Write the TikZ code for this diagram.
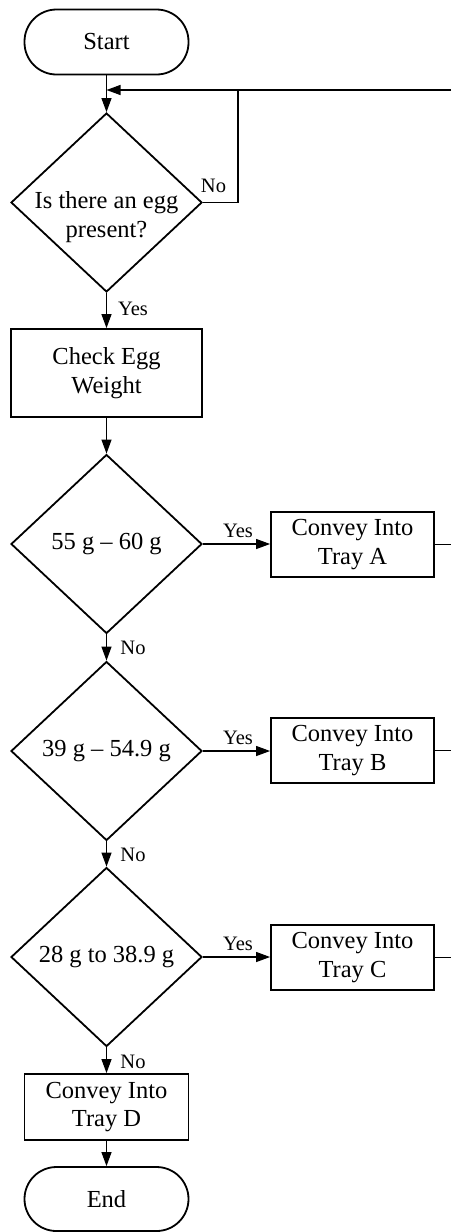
\documentclass[tikz,border=0pt]{standalone}
\usepackage{fontspec}
\setmainfont{Liberation Serif}
\usetikzlibrary{arrows.meta,shapes.geometric}
\begin{document}
\begin{tikzpicture}[x=1pt,y=-1pt,
  box/.style={draw,line width=1.8pt,rectangle,inner sep=0pt,align=center,
    font=\fontsize{24.5}{28.5}\selectfont},
  pill/.style={box,rounded corners=32pt,minimum width=164pt,minimum height=65pt},
  tray/.style={box,minimum width=163pt,minimum height=65pt},
  decision/.style={draw,line width=1.8pt,diamond,inner sep=0pt,
    minimum width=191pt,minimum height=179pt},
  dtext/.style={align=center,inner sep=0pt,font=\fontsize{24.5}{29}\selectfont},
  flow/.style={line width=1.1pt,-{Triangle[length=14pt,width=10pt]}},
  link/.style={line width=1.1pt},
  tag/.style={anchor=base,inner sep=0pt,font=\fontsize{20.5}{22}\selectfont}]
\useasboundingbox (0,0) rectangle (451,1232);

% nodes of the main column
\node[pill] (start) at (106.5,42) {Start};
\node[decision] (q1) at (106.5,202.5) {};
\node[dtext] (q1t) at ([yshift=-15pt]q1.center) {Is there an egg\\present?};
\node[box,minimum width=191pt,minimum height=88pt] (weigh) at (106.5,373) {Check Egg\\Weight};
\node[decision] (q2) at (106.5,544) {};
\node[dtext] (q2t) at (q2) {55 g – 60 g};
\node[decision] (q3) at (106.5,751) {};
\node[dtext] (q3t) at (q3) {39 g – 54.9 g};
\node[decision] (q4) at (106.5,957) {};
\node[dtext] (q4t) at (q4) {28 g to 38.9 g};
\node[tray,minimum width=164pt,minimum height=66pt] (td) at (106.5,1107) {Convey Into\\Tray D};
\node[pill,minimum height=64pt] (end) at (106.5,1199) {End};

% tray boxes on the right
\node[tray] (ta) at (352.5,544.5) {Convey Into\\Tray A};
\node[tray] (tb) at (352.5,750.5) {Convey Into\\Tray B};
\node[tray] (tc) at (352.5,957.5) {Convey Into\\Tray C};

% loop back to the egg check
\coordinate (feed) at (451,90);
\coordinate (merge) at (106.5,90);
\coordinate (bend) at (238,90);
\draw[flow] (start.south) -- (q1.north);
\draw[flow] (feed) -- (merge);
\draw[link] (q1.east) -| (bend);
\node[tag] (noq1) at (213.5,192) {No};

% main column connectors
\draw[flow] (q1.south) -- (weigh.north);
\node[tag] (yesq1) at (133,315) {Yes};
\draw[flow] (weigh.south) -- (q2.north);
\draw[flow] (q2.south) -- (q3.north);
\node[tag] (noq2) at (133,654) {No};
\draw[flow] (q3.south) -- (q4.north);
\node[tag] (noq3) at (133,861) {No};
\draw[flow] (q4.south) -- (td.north);
\node[tag] (noq4) at (133,1068) {No};
\draw[flow] (td.south) -- (end.north);

% branches to the trays
\draw[flow] (q2.east) -- (ta.west |- q2.east);
\node[tag] (yesq2) at (238,537) {Yes};
\draw[flow] (q3.east) -- (tb.west |- q3.east);
\node[tag] (yesq3) at (238,744) {Yes};
\draw[flow] (q4.east) -- (tc.west |- q4.east);
\node[tag] (yesq4) at (238,950) {Yes};

% tray outputs leaving to the right
\coordinate (outa) at (451,544.5);
\coordinate (outb) at (451,750.5);
\coordinate (outc) at (451,957.5);
\draw[link] (ta.east) -- (outa);
\draw[link] (tb.east) -- (outb);
\draw[link] (tc.east) -- (outc);
\end{tikzpicture}
\end{document}
